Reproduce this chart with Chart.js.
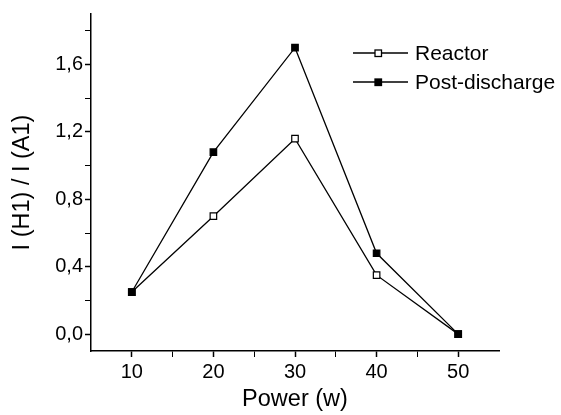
<!DOCTYPE html>
<html>
<head>
<meta charset="utf-8">
<script src="https://cdn.jsdelivr.net/npm/chart.js@4"></script>
<style>
  html, body { margin: 0; padding: 0; background: #fff; }
  #wrap { width: 561px; height: 415px; }
</style>
</head>
<body>
<div id="wrap"><canvas id="chart" width="561" height="415"></canvas></div>
<script>
// Data
const powers = [10, 20, 30, 40, 50];
const reactor = [0.25, 0.70, 1.16, 0.35, 0.0];
const postDischarge = [0.25, 1.08, 1.70, 0.48, 0.0];
const seriesNames = ['Reactor', 'Post-discharge'];

// Axis ticks (majors get labels, the rest are minor marks)
const xTicks = [10, 15, 20, 25, 30, 35, 40, 45, 50];
const xMajor = [10, 20, 30, 40, 50];
const yTicks = [0, 0.2, 0.4, 0.6, 0.8, 1.0, 1.2, 1.4, 1.6, 1.8];
const yMajor = [0, 0.4, 0.8, 1.2, 1.6];

const FONT = "'Liberation Sans', Arial, sans-serif";

function isMajor(list, v) {
    return list.some(m => Math.abs(m - v) < 1e-6);
}

// Legend drawn inside the plot, top right
const insideLegend = {
    id: 'insideLegend',
    afterDraw(chart) {
        const ctx = chart.ctx;
        const rows = [chart.data.datasets[0], chart.data.datasets[1]];
        ctx.save();
        ctx.font = '21px ' + FONT;
        ctx.textBaseline = 'middle';
        rows.forEach((ds, i) => {
            const y = 53 + i * 29;
            ctx.strokeStyle = '#000';
            ctx.lineWidth = 1.3;
            ctx.beginPath();
            ctx.moveTo(353, y);
            ctx.lineTo(408, y);
            ctx.stroke();
            ctx.fillStyle = ds.pointBackgroundColor;
            ctx.fillRect(375, y - 3, 6.5, 6.5);
            ctx.strokeRect(375, y - 3, 6.5, 6.5);
            ctx.fillStyle = '#000';
            ctx.fillText(ds.label, 415, y + 1);
        });
        ctx.restore();
    }
};

const datasets = [{
    label: seriesNames[0],
    data: powers.map((p, i) => ({ x: p, y: reactor[i] })),
    borderColor: '#000',
    borderWidth: 1.3,
    pointStyle: 'rect',
    pointRadius: 4.6,
    pointBorderWidth: 1.2,
    pointBackgroundColor: '#fff',
    pointBorderColor: '#000',
    order: 1
}, {
    label: seriesNames[1],
    data: powers.map((p, i) => ({ x: p, y: postDischarge[i] })),
    borderColor: '#000',
    borderWidth: 1.3,
    pointStyle: 'rect',
    pointRadius: 4.6,
    pointBorderWidth: 1.2,
    pointBackgroundColor: '#000',
    pointBorderColor: '#000',
    order: 0
}];

new Chart(document.getElementById('chart'), {
    type: 'line',
    data: { datasets },
    plugins: [insideLegend],
    options: {
        responsive: false,
        animation: false,
        layout: { padding: { top: 12, right: 62, left: 0, bottom: 0 } },
        plugins: {
            legend: { display: false },
            tooltip: { enabled: false }
        },
        scales: {
            x: {
                type: 'linear',
                min: 5,
                max: 55,
                afterBuildTicks: s => { s.ticks = xTicks.map(v => ({ value: v })); },
                afterFit: s => { s.height = 64; },
                border: { color: '#000', width: 1.5 },
                grid: {
                    drawOnChartArea: false,
                    tickLength: 6,
                    tickColor: '#000',
                    tickWidth: c => isMajor(xMajor, c.tick.value) ? 1.5 : 1
                },
                ticks: {
                    padding: 3,
                    color: '#000',
                    font: { family: FONT, size: 20 },
                    maxRotation: 0,
                    autoSkip: false,
                    callback: v => isMajor(xMajor, v) ? String(v) : ''
                },
                title: {
                    display: true,
                    text: 'Power (w)',
                    color: '#000',
                    font: { family: FONT, size: 23.5, lineHeight: 1 },
                    padding: { top: 0, bottom: 4 }
                }
            },
            y: {
                min: -0.1,
                max: 1.9,
                afterBuildTicks: s => { s.ticks = yTicks.map(v => ({ value: v })); },
                afterFit: s => { s.width = 91; },
                border: { color: '#000', width: 1.5 },
                grid: {
                    drawOnChartArea: false,
                    tickLength: 6,
                    tickColor: '#000',
                    tickWidth: c => isMajor(yMajor, c.tick.value) ? 1.5 : 1
                },
                ticks: {
                    padding: 2,
                    color: '#000',
                    font: { family: FONT, size: 20 },
                    autoSkip: false,
                    callback: v => isMajor(yMajor, v) ? v.toFixed(1).replace('.', ',') : ''
                },
                title: {
                    display: true,
                    text: 'I (H1) / I (A1)',
                    color: '#000',
                    font: { family: FONT, size: 23.5, lineHeight: 1 },
                    padding: { top: 11, bottom: 0 }
                }
            }
        }
    }
});
</script>
</body>
</html>
